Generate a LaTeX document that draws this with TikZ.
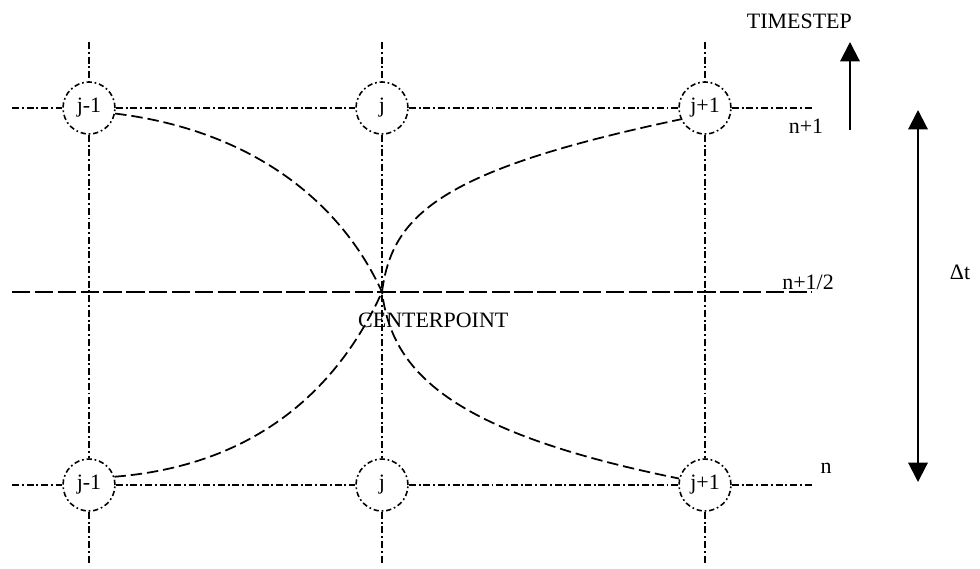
\documentclass[tikz,border=0pt]{standalone}
\usepackage{fontspec}
\setmainfont{Liberation Serif}
\usepackage{tikz}
\usetikzlibrary{arrows.meta,positioning,calc}

\begin{document}
\begin{tikzpicture}[
    x=0.02cm, y=-0.02cm,
    every node/.style={font=\fontsize{12.5}{15}\selectfont},
    gridpt/.style={circle, draw=black, line width=0.9pt, dash pattern=on 3pt off 1.6pt on 1pt off 1.6pt, minimum size=1.04cm, inner sep=0pt},
    gridline/.style={line width=1pt, dash pattern=on 4pt off 1.6pt on 1.1pt off 1.6pt},
    halfline/.style={line width=1pt, dash pattern=on 10.5pt off 2.5pt},
    curve/.style={line width=1pt, dash pattern=on 6.5pt off 2.8pt},
    arrow/.style={line width=1.2pt, -{Triangle[length=11pt,width=11pt]}},
    dblarrow/.style={line width=1.2pt, {Triangle[length=11pt,width=11pt]}-{Triangle[length=11pt,width=11pt]}}
]
\useasboundingbox (0,0) rectangle (980,568);

% Grid points at time level n+1
\node[gridpt] (tjm) at (89,108) {j-1};
\node[gridpt] (tj) at (382,108) {j};
\node[gridpt] (tjp) at (705,108) {j+1};

% Grid points at time level n
\node[gridpt] (bjm) at (89,485) {j-1};
\node[gridpt] (bj) at (382,485) {j};
\node[gridpt] (bjp) at (705,485) {j+1};

% Centerpoint
\coordinate (cp) at (382,292);

% Free line ends
\coordinate (topL) at (12,108);
\coordinate (topR) at (812,108);
\coordinate (botL) at (12,485);
\coordinate (botR) at (812,485);
\coordinate (midL) at (12,292);
\coordinate (midR) at (812,292);
\coordinate (jmU) at (89,42);
\coordinate (jmD) at (89,563);
\coordinate (jU) at (382,42);
\coordinate (jD) at (382,563);
\coordinate (jpU) at (705,42);
\coordinate (jpD) at (705,563);

% Grid lines
\draw[gridline] (topL) -- (tjm) -- (tj) -- (tjp) -- (topR);
\draw[gridline] (botL) -- (bjm) -- (bj) -- (bjp) -- (botR);
\draw[gridline] (jmU) -- (tjm) -- (bjm) -- (jmD);
\draw[gridline] (jU) -- (tj) -- (bj) -- (jD);
\draw[gridline] (jpU) -- (tjp) -- (bjp) -- (jpD);
\draw[halfline] (midL) -- (midR);

% Characteristic curves through the centerpoint
\draw[curve] (tjm.-12) .. controls (250,130) and (340,200) .. (cp)
    .. controls (392,372) and (450,432) .. (bjp.166);
\draw[curve] (bjm.18) .. controls (250,466) and (335,395) .. (cp)
    .. controls (392,215) and (440,170) .. (tjp.205);

% Labels
\node[anchor=west] (cplabel) at (352,320) {CENTERPOINT};
\node (lvlup) at (806,126) {n+1};
\node (lvlhalf) at (808,282) {n+1/2};
\node (lvl) at (826,468) {n};

% Time axis
\node[anchor=east] (tslabel) at (858,21) {TIMESTEP};
\coordinate (tsfoot) at (850,130);
\coordinate (tshead) at (850,42);
\draw[arrow] (tsfoot) -- (tshead);
\coordinate (dtup) at (918,110);
\coordinate (dtdown) at (918,482);
\draw[dblarrow] (dtup) -- (dtdown);
\node (dtlabel) at (960,272) {Δt};

\end{tikzpicture}
\end{document}
